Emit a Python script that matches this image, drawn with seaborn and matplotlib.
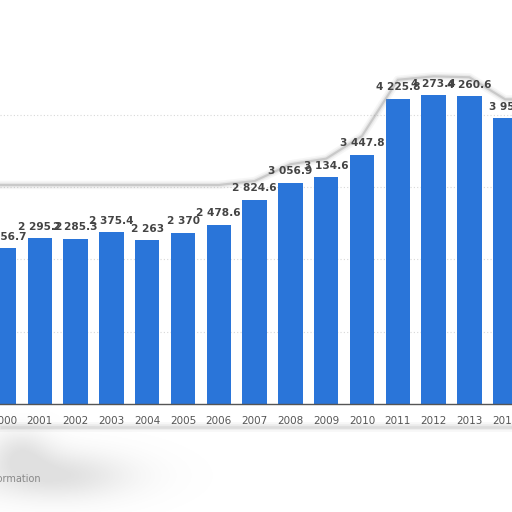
import matplotlib
matplotlib.use("Agg")
import matplotlib.pyplot as plt
import seaborn as sns
import pandas as pd
import numpy as np

years = ["2000", "2001", "2002", "2003", "2004", "2005", "2006", "2007",
         "2008", "2009", "2010", "2011", "2012", "2013", "2014"]
values = [2156.7, 2295.2, 2285.3, 2375.4, 2263.0, 2370.0, 2478.6, 2824.6,
          3056.9, 3134.6, 3447.8, 4225.8, 4273.4, 4260.6, 3955.0]
grid_ticks = [1000, 2000, 3000, 4000]

df = pd.DataFrame({"year": years, "value": values})

sns.set_theme(style="white")
plt.rcParams['font.family'] = ['DejaVu Sans']

fig = plt.figure(figsize=(5.12, 5.12), dpi=100)

# soft grey smudge in the lower-left corner (behind everything)
bg = fig.add_axes([0, 0, 1, 1], zorder=-5)
bg.set_xlim(0, 512)
bg.set_ylim(512, 0)
bg.axis("off")
gx, gy = np.meshgrid(np.arange(512), np.arange(512))
blob = (np.exp(-(((gx - 55) / 75.0) ** 2 + ((gy - 475) / 24.0) ** 2))
        + 0.7 * np.exp(-(((gx - 20) / 30.0) ** 2 + ((gy - 450) / 22.0) ** 2)))
blob = np.clip(blob, 0, 1)
rgba = np.zeros((512, 512, 4))
rgba[..., :3] = 0.62
rgba[..., 3] = 0.32 * blob
bg.imshow(rgba, extent=(0, 512, 512, 0), interpolation="bilinear")
# shadow band below the tick labels
for lw, a in [(7, 0.08), (4, 0.12), (2, 0.16)]:
    bg.plot([0, 512], [427, 427], color="#9a9a9a", lw=lw, alpha=a, solid_capstyle="butt")
bg.set_xlim(0, 512)
bg.set_ylim(512, 0)

ax = fig.add_axes([0, 0.211, 1, 0.789])

sns.barplot(data=df, x="year", y="value", color="#2a75d9", saturation=1,
            width=0.68, linewidth=0, ax=ax)

ax.set_xlim(-0.112, 14.19)
ax.set_ylim(0, 5590)
ax.set_yticks(grid_ticks)
ax.yaxis.grid(True, color="#d8d8d8", linestyle=(0, (1, 2)), linewidth=0.8)
ax.set_axisbelow(True)
ax.patch.set_alpha(0)
ax.tick_params(axis="y", left=False, labelleft=False)
ax.tick_params(axis="x", bottom=False, labelsize=7.5, labelcolor="#555555", pad=3)
ax.set_xlabel("")
ax.set_ylabel("")
for s in ["top", "left", "right"]:
    ax.spines[s].set_visible(False)
ax.spines["bottom"].set_color("#555555")
ax.spines["bottom"].set_linewidth(1.0)

def fmt(v):
    if abs(v - round(v)) < 1e-6:
        s = f"{int(round(v)):,}"
    else:
        s = f"{v:,.1f}"
    return s.replace(",", " ")

for i, v in enumerate(values):
    ax.text(i, v + 160, fmt(v), ha="center", va="center", fontsize=7.6,
            fontweight="bold", color="#444444")

# grey cut-out outline hugging the label tops
xs = np.arange(len(values))
env = np.maximum(np.array(values) + 260, 3030)
ex = np.concatenate([[-0.5], xs, [14.5]])
ey = np.concatenate([[env[0]], env, [env[-1]]])
for lw, a in [(6, 0.07), (3.5, 0.13), (1.6, 0.32)]:
    ax.plot(ex, ey, color="#8a8a8a", lw=lw, alpha=a, clip_on=False,
            solid_joinstyle="round")

fig.text(0.08, 0.064, "Additional Information", ha="right", va="center",
         fontsize=7, color="#888888")

fig.savefig("out.png", dpi=100)
